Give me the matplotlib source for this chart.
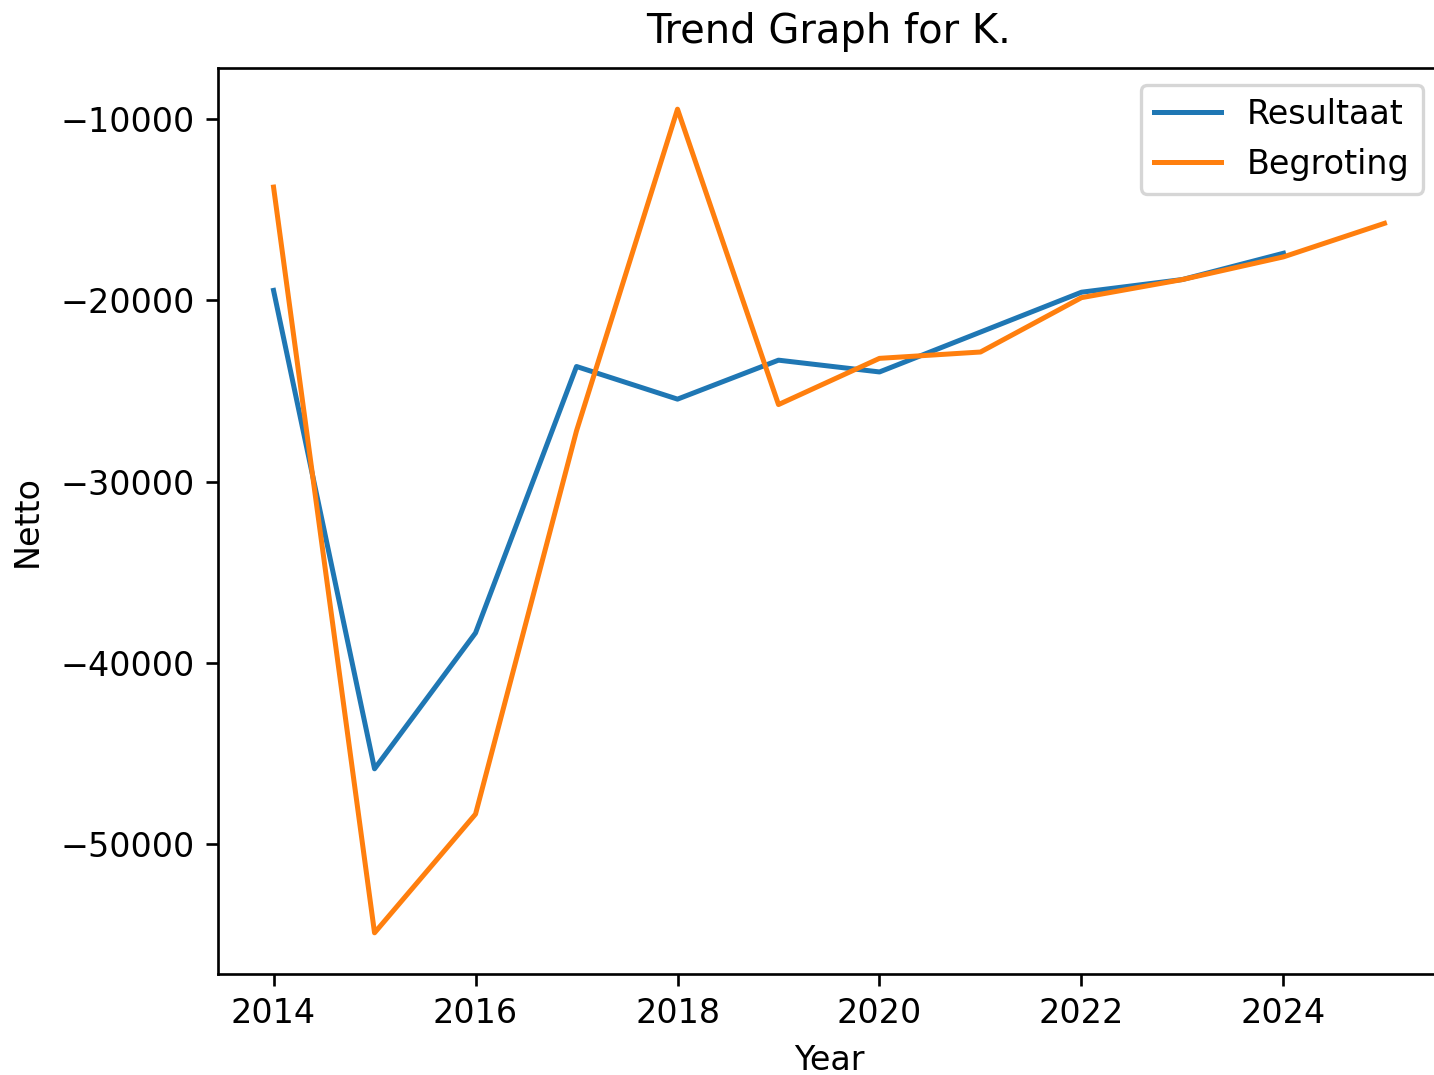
import matplotlib
matplotlib.use("Agg")
import matplotlib.pyplot as plt

# values
years_result = [2014, 2015, 2016, 2017, 2018, 2019, 2020, 2021, 2022, 2023, 2024]
resultaat = [-19450, -45850, -38350, -23650, -25450, -23300, -23950, -21750, -19550, -18850, -17400]

years_budget = [2014, 2015, 2016, 2017, 2018, 2019, 2020, 2021, 2022, 2023, 2024, 2025]
begroting = [-13750, -54900, -48350, -27200, -9450, -25750, -23200, -22850, -19850, -18850, -17600, -15750]


def main() -> None:
    fig = plt.figure(figsize=(1434 / 240, 1075 / 240), dpi=240)
    ax = fig.add_axes([218 / 1434, 101 / 1075, 1222 / 1434, 906 / 1075])

    ax.plot(years_result, resultaat, label="Resultaat")
    ax.plot(years_budget, begroting, label="Begroting")

    ax.set_title("Trend Graph for K.", pad=7.5)
    ax.set_xlabel("Year")
    ax.set_ylabel("Netto", labelpad=5)
    ax.legend(loc="upper right")

    fig.savefig("out.png", dpi=240)
    plt.close(fig)


if __name__ == "__main__":
    main()
